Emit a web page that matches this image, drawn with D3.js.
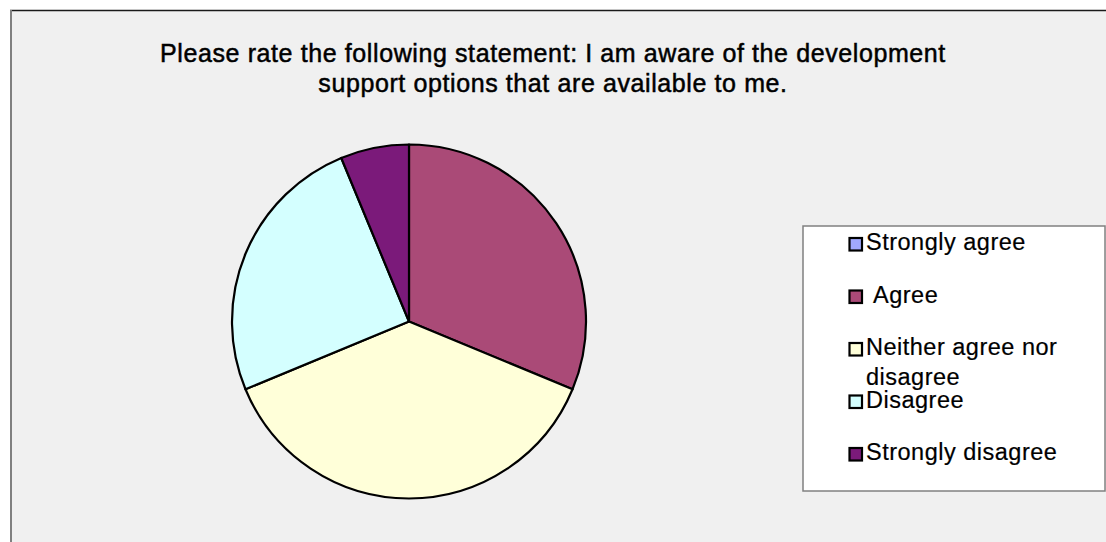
<!DOCTYPE html>
<html>
<head>
<meta charset="utf-8">
<script src="https://cdn.jsdelivr.net/npm/d3@7"></script>
<style>
  html, body { margin: 0; padding: 0; background: #ffffff; }
  svg { display: block; }
  text { font-family: "Liberation Sans", Arial, sans-serif; fill: #000; }
</style>
</head>
<body>
<svg id="chart" width="1106" height="542"></svg>
<script>
const categories = ["Strongly agree", "Agree", "Neither agree nor disagree", "Disagree", "Strongly disagree"];
const legendLabels = [["Strongly agree"], ["\u00a0Agree"], ["Neither agree nor", "disagree"], ["Disagree"], ["Strongly disagree"]];
const values = [0, 5, 6, 4, 1];
const colors = ["#a0a8ff", "#aa4a77", "#ffffd9", "#d4ffff", "#7b1a7a"];
const titleLines = ["Please rate the following statement: I am aware of the development", "support options that are available to me."];

const svg = d3.select("#chart");

// chart area
svg.append("rect").attr("x", 10).attr("y", 10).attr("width", 1200).attr("height", 600).attr("fill", "#f0f0f0");
svg.append("line").attr("x1", 10).attr("x2", 1106).attr("y1", 10.5).attr("y2", 10.5).attr("stroke", "#1a1a1a").attr("stroke-width", 1.3);
svg.append("line").attr("x1", 11).attr("x2", 11).attr("y1", 10).attr("y2", 542).attr("stroke", "#808080").attr("stroke-width", 2);

// title
const title = svg.append("text").attr("text-anchor", "middle").attr("font-size", 25)
  .attr("letter-spacing", 0.6).attr("stroke", "#000").attr("stroke-width", 0.5);
titleLines.forEach((t, i) => {
  title.append("tspan").attr("x", 553).attr("y", 62 + i * 30).text(t);
});

// pie
const color = d3.scaleOrdinal().domain(categories).range(colors);
const pie = d3.pie().sort(null).value(d => d.v);
const data = categories.map((c, i) => ({ c, v: values[i] }));
const arc = d3.arc().innerRadius(0).outerRadius(177);
const g = svg.append("g").attr("transform", "translate(409,321.5)");
g.selectAll("path").data(pie(data).filter(d => d.data.v > 0)).join("path")
  .attr("d", arc)
  .attr("fill", d => color(d.data.c))
  .attr("stroke", "#000").attr("stroke-width", 2.2).attr("stroke-linejoin", "round");

// legend
svg.append("rect").attr("x", 803).attr("y", 226).attr("width", 302).attr("height", 265)
  .attr("fill", "#ffffff").attr("stroke", "#808080").attr("stroke-width", 1.5);
const ly = d3.scalePoint().domain(categories).range([250, 460]);
const items = svg.append("g").selectAll("g").data(categories).join("g");
items.append("rect").attr("x", 849.5).attr("y", d => ly(d) - 12).attr("width", 12.5).attr("height", 12.5)
  .attr("fill", d => color(d)).attr("stroke", "#000").attr("stroke-width", 2.2);
items.append("text").attr("font-size", 23.5).attr("letter-spacing", 0.5)
  .attr("stroke", "#000").attr("stroke-width", 0.2)
  .each(function(d, i) {
    const t = d3.select(this);
    legendLabels[i].forEach((line, j) => {
      t.append("tspan").attr("x", 866).attr("y", ly(d) + j * 30).text(line);
    });
  });
</script>
</body>
</html>
